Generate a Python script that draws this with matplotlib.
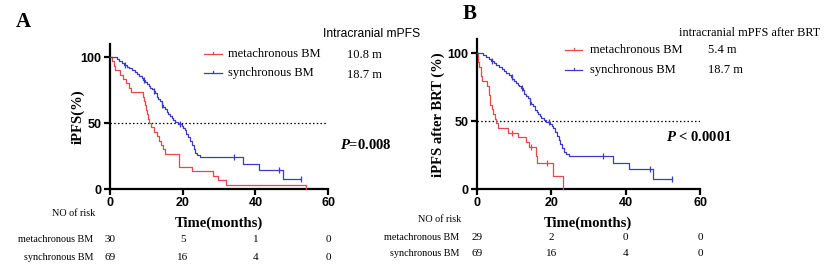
import numpy as np
import matplotlib
matplotlib.use("Agg")
import matplotlib.pyplot as plt
from matplotlib.lines import Line2D

plt.rcParams["mathtext.fontset"] = "custom"
plt.rcParams["mathtext.rm"] = "Liberation Serif:bold"
plt.rcParams["mathtext.bf"] = "Liberation Serif:bold"
plt.rcParams["mathtext.it"] = "Liberation Serif:italic:bold"
plt.rcParams["mathtext.bfit"] = "Liberation Serif:italic:bold"

# ---------------- data ----------------
# Panel A
a_meta_t = [0, 0.5, 1.0, 1.5, 2.8, 3.6, 4.5, 5.3, 5.9, 9.0, 9.3, 9.6, 9.9, 10.2, 10.5, 10.8,
            11.4, 12.0, 12.8, 13.4, 14.0, 14.6, 15.1, 19.0, 22.5, 28.4, 29.8, 32.0, 54.0]
a_meta_s = [100, 96.7, 93.3, 90.0, 86.7, 83.3, 80.0, 76.7, 73.3, 70.0, 66.7, 63.3, 60.0, 56.7, 53.3, 50.0,
            46.7, 43.3, 40.0, 36.7, 33.3, 30.0, 26.7, 16.7, 13.3, 10.0, 6.7, 3.3, 0]
a_meta_end = 54.0

syn_t = [0, 1.8, 2.6, 3.2, 3.8, 4.6, 5.3, 6.0, 6.8, 7.3, 8.0, 8.7, 9.2, 9.6, 10.1, 10.6,
         11.0, 11.5, 12.0, 12.4, 12.8, 13.3, 13.8, 14.2, 14.7, 15.2, 15.6, 16.1, 16.5, 17.0,
         17.4, 18.0, 18.7, 19.7, 20.2, 20.6, 21.0, 21.5, 22.0, 22.5, 23.0, 23.4, 24.0, 24.8,
         36.5, 41.0, 47.5]
syn_s = [100, 98.6, 97.1, 95.7, 94.2, 92.8, 91.3, 89.9, 88.4, 87.0, 85.5, 84.1, 82.6, 81.2, 79.7, 78.3,
         76.8, 75.4, 73.9, 72.5, 69.6, 68.1, 66.7, 63.8, 62.3, 60.9, 58.0, 56.5, 55.1, 53.6,
         52.2, 50.7, 49.3, 47.8, 46.4, 44.9, 42.0, 39.1, 36.2, 33.3, 30.4, 27.5, 26.1, 24.6,
         19.3, 14.5, 7.2]
syn_end = 52.5
syn_cens = [4.2, 9.4, 12.2, 14.4, 19.3, 34.0, 46.5, 52.5]

# Panel B
b_meta_t = [0, 0.3, 0.7, 1.1, 1.4, 2.8, 3.2, 3.6, 4.0, 4.4, 4.8, 5.2, 5.6, 8.3, 11.0, 13.2,
            14.0, 15.9, 16.1, 20.6, 23.3]
b_meta_s = [100, 93.1, 89.7, 82.8, 79.3, 75.9, 69.0, 62.1, 58.6, 55.2, 51.7, 48.3, 44.8, 41.4, 37.9, 34.5,
            31.0, 24.1, 19.3, 9.6, 0]
b_meta_end = 23.3
b_meta_cens = [9.5, 14.5, 19.0]

xticks = [0, 20, 40, 60]
yticks = [0, 50, 100]

risk_a = {"metachronous BM": [30, 5, 1, 0], "synchronous BM": [69, 16, 4, 0]}
risk_b = {"metachronous BM": [29, 2, 0, 0], "synchronous BM": [69, 16, 4, 0]}

RED = "#e8474c"
BLUE = "#3b3bc4"
SERIF = "Liberation Serif"
SANS = "Liberation Sans"

fig = plt.figure(figsize=(8.24, 2.67), dpi=100)


def surv_at(t, ts, ss):
    i = np.searchsorted(ts, t, side="right") - 1
    return ss[i]


def km(ax, ts, ss, end, color, cens):
    ts = list(ts) + [end]
    ss = list(ss) + [ss[-1]]
    ax.step(ts, ss, where="post", color=color, lw=0.9, clip_on=False, zorder=3)
    if cens:
        cy = [surv_at(c, ts, ss) for c in cens]
        ax.plot(cens, cy, ls="none", marker="|", ms=4, mew=0.9, color=color,
                clip_on=False, zorder=3)


def style(ax, ylabel, ylab_x):
    ax.set_xlim(0, 60)
    ax.set_ylim(0, 110)
    for s in ["top", "right"]:
        ax.spines[s].set_visible(False)
    for s in ["left", "bottom"]:
        ax.spines[s].set_linewidth(1.6)
    ax.set_xticks(xticks)
    ax.set_yticks(yticks)
    ax.tick_params(width=1.6, length=4, labelsize=9, pad=2)
    for lab in ax.get_xticklabels() + ax.get_yticklabels():
        lab.set_fontfamily(SANS)
        lab.set_fontweight("bold")
    ax.axhline(50, xmin=0, xmax=1, color="black", ls=(0, (1.2, 1.8)), lw=0.9, zorder=2)
    ax.set_xlabel("Time(months)", fontfamily=SERIF, fontweight="bold", fontsize=10.5, labelpad=5)
    ax.set_ylabel(ylabel, fontfamily=SERIF, fontweight="bold", fontsize=10.5)
    ax.yaxis.set_label_coords(ylab_x, 0.5)


def px(x, y):
    return x / 824, 1 - y / 267


def legend_line(x0, x1, y, color):
    (fx0, fy), (fx1, _) = px(x0, y), px(x1, y)
    fig.add_artist(Line2D([fx0, fx1], [fy, fy], color=color, lw=0.9))
    xm = (fx0 + fx1) / 2
    fig.add_artist(Line2D([xm, xm], [fy, fy + 2.5 / 267], color=color, lw=0.9))


# ---- Panel A ----
axA = fig.add_axes([110 / 824, 1 - 189 / 267, 218 / 824, 145.2 / 267])
style(axA, "iPFS(%)", -0.115)
km(axA, a_meta_t, a_meta_s, a_meta_end, RED, [])
km(axA, syn_t, syn_s, syn_end, BLUE, syn_cens)

# ---- Panel B ----
axB = fig.add_axes([476.7 / 824, 1 - 189 / 267, 223.3 / 824, 149.6 / 267])
style(axB, "iPFS after BRT (%)", -0.14)
km(axB, b_meta_t, b_meta_s, b_meta_end, RED, b_meta_cens)
km(axB, syn_t, syn_s, syn_end, BLUE, syn_cens)

# Panel letters
fig.text(*px(16, 22), "A", fontfamily=SERIF, fontweight="bold", fontsize=15, va="center")
fig.text(*px(463, 14), "B", fontfamily=SERIF, fontweight="bold", fontsize=15, va="center")

# Legends A
fig.text(*px(323, 34), "Intracranial mPFS", fontfamily=SANS, fontsize=8.7, va="center")
legend_line(204, 222, 54, RED)
legend_line(204, 222, 73, BLUE)
fig.text(*px(228, 54), "metachronous BM", fontfamily=SERIF, fontsize=9.0, va="center")
fig.text(*px(228, 73), "synchronous BM", fontfamily=SERIF, fontsize=9.0, va="center")
fig.text(*px(347, 55), "10.8 m", fontfamily=SERIF, fontsize=9.0, va="center")
fig.text(*px(347, 75), "18.7 m", fontfamily=SERIF, fontsize=9.0, va="center")
fig.text(*px(340, 145), r"$\mathbfit{P}$=0.008", fontfamily=SERIF, fontweight="bold",
         fontsize=10.5, va="center")

# Legends B
fig.text(*px(679, 33), "intracranial mPFS after BRT", fontfamily=SERIF, fontsize=8.8, va="center")
legend_line(565, 582, 50, RED)
legend_line(565, 582, 70, BLUE)
fig.text(*px(590, 50), "metachronous BM", fontfamily=SERIF, fontsize=9.0, va="center")
fig.text(*px(590, 70), "synchronous BM", fontfamily=SERIF, fontsize=9.0, va="center")
fig.text(*px(708, 50), "5.4 m", fontfamily=SERIF, fontsize=9.0, va="center")
fig.text(*px(708, 70), "18.7 m", fontfamily=SERIF, fontsize=9.0, va="center")
fig.text(*px(666, 137), r"$\mathbfit{P}$ < 0.0001", fontfamily=SERIF, fontweight="bold",
         fontsize=10.5, va="center")


def risk_table(ax, table, right_x, ys, head_y):
    fig.text(*px(right_x + 2, head_y), "NO of risk", fontfamily=SERIF, fontsize=7.3,
             ha="right", va="center")
    for (name, vals), y in zip(table.items(), ys):
        fig.text(*px(right_x, y), name, fontfamily=SERIF, fontsize=7.3, ha="right", va="center")
        fy = px(0, y)[1]
        for xv, v in zip(xticks, vals):
            xf = fig.transFigure.inverted().transform(ax.transData.transform((xv, 0)))[0]
            fig.text(xf, fy, str(v), fontfamily=SERIF, fontsize=8.0, ha="center", va="center")


risk_table(axA, risk_a, 93, [240, 257], 214)
risk_table(axB, risk_b, 459, [237, 254], 220)

fig.savefig("out.png", dpi=100)
